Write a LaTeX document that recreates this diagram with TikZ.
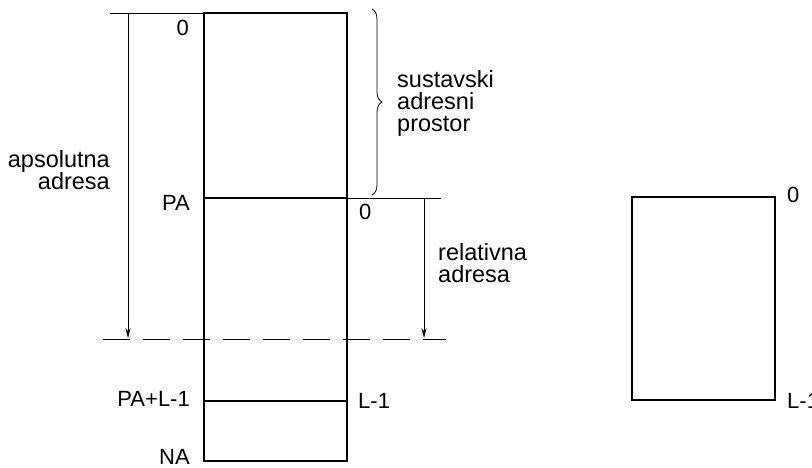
\documentclass[tikz,border=0pt]{standalone}
\usepackage{fontspec}
\setmainfont{Liberation Sans}
\usetikzlibrary{arrows.meta,decorations.pathreplacing}
\begin{document}
\begin{tikzpicture}[x=1pt,y=-1pt,
  box/.style={draw, line width=1.6pt},
  thin/.style={draw, line width=0.8pt},
  arr/.style={thin, -{Stealth[length=10pt,width=5pt]}},
  lbl/.style={font=\fontsize{22}{22}\selectfont, inner sep=0pt},
  multi/.style={font=\fontsize{23.5}{22}\selectfont, inner sep=0pt, anchor=base west}]
\useasboundingbox (0,0) rectangle (812,468);
% main memory block
\coordinate (mtl) at (204,13);
\coordinate (mbr) at (347,461);
\draw[box] (mtl) rectangle (mbr);
\coordinate (paL) at (204,198);
\coordinate (paM) at (347,198);
\coordinate (paR) at (441,198);
\draw[box] (paL) -- (paM);
\draw[thin] (paM) -- (paR);
\coordinate (plL) at (204,401);
\coordinate (plR) at (347,401);
\draw[box] (plL) -- (plR);
% top extension line
\coordinate (topL) at (110,13);
\draw[thin] (topL) -- (mtl);
% absolute arrow
\coordinate (absS) at (128,14);
\coordinate (absE) at (128,338);
\draw[arr] (absS) -- (absE);
% relative arrow
\coordinate (relS) at (424,198);
\coordinate (relE) at (424,338);
\draw[arr] (relS) -- (relE);
% dashed line
\coordinate (dL) at (103,339);
\coordinate (dR) at (446,339);
\draw[thin, dash pattern=on 27pt off 13pt] (dL) -- (dR);
% brace
\coordinate (brT) at (372,9);
\coordinate (brB) at (372,195);
\draw[thin, decorate, decoration={brace, amplitude=10pt}] (brT) -- (brB);
% labels
\node[lbl, anchor=base east] (z0) at (189,36) {0};
\node[lbl, anchor=base east] (pa) at (190,211) {PA};
\node[lbl, anchor=base west] (z1) at (359,220) {0};
\node[lbl, anchor=base east] (papl) at (190,406) {PA+L-1};
\node[lbl, anchor=base west] (l1) at (358,408) {L-1};
\node[lbl, anchor=base east] (na) at (190,464) {NA};
\node[multi] (sus1) at (397,88) {sustavski};
\node[multi] (sus2) at (397,110) {adresni};
\node[multi] (sus3) at (397,132) {prostor};
\node[multi, anchor=base east] (aps1) at (110,168) {apsolutna};
\node[multi, anchor=base east] (aps2) at (110,190) {adresa};
\node[multi] (rel1) at (438,260) {relativna};
\node[multi] (rel2) at (438,282) {adresa};
% right block
\coordinate (rtl) at (632,197);
\coordinate (rbr) at (775,400);
\draw[box] (rtl) rectangle (rbr);
\node[lbl, anchor=base west] (r0) at (787,203) {0};
\node[lbl, anchor=base west] (rl1) at (787,408) {L-1};
\end{tikzpicture}
\end{document}
